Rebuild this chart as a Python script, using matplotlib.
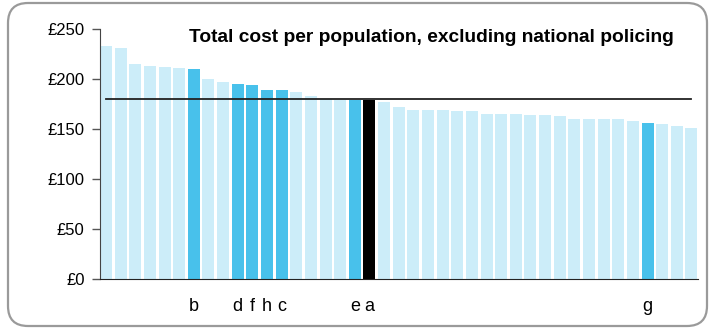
import matplotlib
matplotlib.use('Agg')
import matplotlib.pyplot as plt
from matplotlib.patches import FancyBboxPatch
import numpy as np

plt.rcParams['font.family'] = ['Liberation Sans', 'DejaVu Sans']

# cost per head (GBP), sorted descending, one bar per force
values = [233.5, 231.5, 215.5, 213.3, 212, 211.5, 210.3, 200.5, 197.5, 195.3,
          194.5, 189, 189, 187.5, 183.3, 180, 179.5, 179, 179, 177.3,
          172.5, 169.5, 169.3, 169.3, 168.6, 168.6, 165.6, 165.3, 165.3, 164.6,
          164.6, 163.6, 160.6, 160.6, 160.6, 160, 158.6, 156, 155.3, 153.3, 151.6]
# highlighted forces and their labels
labels = {6: 'b', 9: 'd', 10: 'f', 11: 'h', 12: 'c', 17: 'e', 18: 'a', 37: 'g'}
focus = 18
average = 180
title = 'Total cost per population, excluding national policing'

light, mid = '#CCEDF9', '#48C1EB'
colors = []
for i in range(len(values)):
    if i == focus:
        colors.append('black')
    elif i in labels:
        colors.append(mid)
    else:
        colors.append(light)

fig = plt.figure(figsize=(7.09, 3.28), dpi=100)
ax = fig.add_axes([100/709, 1-279.3/328, 598/709, 250/328])

x = np.arange(len(values))
ax.bar(x, values, width=0.82, color=colors)
ax.plot([x[0], x[-1]], [average, average], color='#222222', lw=1.3)

ax.set_xlim(-0.41, len(values) - 0.55)
ax.set_ylim(0, 250)
ax.set_yticks(range(0, 251, 50))
ax.set_yticklabels([f'£{v}' for v in range(0, 251, 50)], fontsize=12)
ax.tick_params(axis='y', length=6, width=1, color='#555555', pad=5)

idx = sorted(labels)
ax.set_xticks(idx)
ax.set_xticklabels([labels[i] for i in idx], fontsize=13)
ax.tick_params(axis='x', length=0, pad=13.5)

ax.spines[['top', 'right']].set_visible(False)
ax.spines['left'].set_color('#444444')
ax.spines['bottom'].set_color('#222222')

fig.text(431/709, 1-41.7/328, title, ha='center', va='baseline',
         fontsize=13.8, fontweight='bold')

box = FancyBboxPatch((0.08, 0.02), 6.99, 3.23, boxstyle='round,pad=0,rounding_size=0.2',
                     transform=fig.dpi_scale_trans, fill=False, edgecolor='#9A9A9A', lw=1.6)
fig.patches.append(box)

fig.savefig('out.png', dpi=100)
